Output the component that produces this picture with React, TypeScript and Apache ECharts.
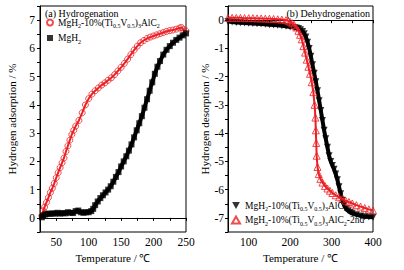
import React, { useEffect, useRef } from 'react';
import * as echarts from 'echarts';

const FONT = 'Liberation Serif, serif';
const RED = '#ec1f24';
const BLACK = '#000000';

// (a) Hydrogenation — MgH2-10%(Ti0.5V0.5)3AlC2 (open red circles)
const hydroCompT = [28, 30, 32, 35, 38, 41, 44, 47, 50, 53, 56, 59, 62, 65, 68, 71, 74, 77, 80, 85, 90, 95, 100, 105, 110, 115, 120, 125, 130, 135, 140, 145, 150, 155, 160, 165, 170, 175, 180, 185, 190, 195, 200, 205, 210, 215, 220, 225, 230, 235, 240, 243, 246, 250];
const hydroCompV = [0.08, 0.25, 0.38, 0.55, 0.72, 0.9, 1.05, 1.22, 1.42, 1.6, 1.78, 1.95, 2.12, 2.35, 2.55, 2.75, 2.95, 3.1, 3.25, 3.45, 3.72, 4.0, 4.22, 4.38, 4.5, 4.6, 4.7, 4.78, 4.87, 4.96, 5.07, 5.2, 5.33, 5.47, 5.62, 5.78, 5.94, 6.08, 6.2, 6.28, 6.35, 6.4, 6.44, 6.48, 6.52, 6.56, 6.6, 6.63, 6.65, 6.68, 6.72, 6.74, 6.66, 6.62];

// (a) Hydrogenation — MgH2 (filled black squares)
const hydroMgT = [28, 30, 33, 36, 40, 44, 48, 52, 56, 60, 64, 68, 72, 76, 80, 84, 88, 92, 96, 100, 104, 107, 110, 114, 118, 122, 126, 130, 134, 138, 142, 146, 150, 154, 158, 162, 166, 170, 174, 178, 182, 186, 190, 194, 198, 202, 206, 210, 215, 220, 225, 230, 235, 240, 245, 250];
const hydroMgV = [0.02, 0.08, 0.12, 0.15, 0.14, 0.16, 0.15, 0.18, 0.15, 0.17, 0.16, 0.2, 0.18, 0.17, 0.24, 0.26, 0.2, 0.18, 0.2, 0.2, 0.24, 0.32, 0.45, 0.58, 0.7, 0.8, 0.9, 1.0, 1.12, 1.28, 1.45, 1.62, 1.82, 2.0, 2.18, 2.38, 2.6, 2.85, 3.1, 3.35, 3.6, 3.9, 4.2, 4.5, 4.8, 5.1, 5.35, 5.55, 5.78, 5.95, 6.08, 6.2, 6.3, 6.38, 6.46, 6.53];

// (b) Dehydrogenation — MgH2-10%(Ti0.5V0.5)3AlC2 (filled black down-triangles)
const dehydT = [50, 60, 70, 80, 90, 100, 110, 120, 130, 140, 150, 160, 170, 180, 190, 200, 210, 215, 220, 225, 230, 234, 238, 242, 246, 250, 254, 258, 262, 266, 270, 274, 278, 282, 286, 290, 294, 298, 302, 306, 310, 314, 318, 322, 326, 330, 335, 340, 345, 350, 360, 370, 380, 390, 400];
const dehydV = [-0.05, -0.07, -0.08, -0.09, -0.1, -0.11, -0.12, -0.13, -0.14, -0.15, -0.16, -0.17, -0.18, -0.2, -0.22, -0.24, -0.26, -0.28, -0.3, -0.34, -0.4, -0.48, -0.6, -0.78, -1.0, -1.28, -1.58, -1.88, -2.18, -2.5, -2.85, -3.2, -3.55, -3.9, -4.2, -4.5, -4.8, -5.0, -5.15, -5.28, -5.45, -5.65, -5.9, -6.15, -6.38, -6.55, -6.68, -6.75, -6.8, -6.84, -6.89, -6.93, -6.96, -6.97, -6.98];

// (b) Dehydrogenation — 2nd cycle (open red triangles)
const dehyd2T = [50, 60, 70, 80, 90, 100, 110, 120, 130, 140, 150, 160, 170, 180, 190, 195, 200, 205, 210, 215, 220, 224, 228, 232, 236, 240, 244, 248, 252, 256, 259, 261, 262, 263, 264, 266, 269, 273, 278, 284, 290, 296, 302, 310, 318, 326, 334, 342, 350, 360, 370, 380, 390, 400];
const dehyd2V = [0.08, 0.08, 0.08, 0.08, 0.07, 0.07, 0.07, 0.06, 0.06, 0.05, 0.05, 0.04, 0.03, 0.02, 0.0, -0.02, -0.06, -0.11, -0.17, -0.26, -0.38, -0.52, -0.68, -0.92, -1.15, -1.4, -1.65, -1.9, -2.2, -2.55, -3.0, -3.45, -3.9, -4.35, -4.8, -5.2, -5.45, -5.62, -5.75, -5.87, -5.96, -6.04, -6.12, -6.2, -6.27, -6.33, -6.39, -6.44, -6.49, -6.55, -6.6, -6.65, -6.7, -6.74];

const leftYTicks = [0, 1, 2, 3, 4, 5, 6, 7];
const rightYTicks = [0, -1, -2, -3, -4, -5, -6, -7];
const leftXTicks = [50, 100, 150, 200, 250];
const rightXTicks = [100, 200, 300, 400];

const NAME_A1 = 'MgH2-10%(Ti0.5V0.5)3AlC2';
const NAME_A2 = 'MgH2';
const NAME_B1 = 'MgH2-10%(Ti0.5V0.5)3AlC2 (b)';
const NAME_B2 = 'MgH2-10%(Ti0.5V0.5)3AlC2-2nd';

const RICH_BASE = '{n|MgH}{s|2}{n|-10%(Ti}{s|0.5}{n|V}{s|0.5}{n|)}{s|3}{n|AlC}{s|2}';
const legendText: Record<string, string> = {
  [NAME_A1]: RICH_BASE,
  [NAME_A2]: '{n|MgH}{s|2}',
  [NAME_B1]: RICH_BASE,
  [NAME_B2]: RICH_BASE + '{n|-2nd}',
};

const rich = {
  n: { fontFamily: FONT, fontSize: 9.5, color: '#000', lineHeight: 13 },
  s: { fontFamily: FONT, fontSize: 6, color: '#000', lineHeight: 6, verticalAlign: 'bottom' },
};

const DOWN_TRI = 'path://M0,0 L10,0 L5,9 Z';

const zip = (t: number[], v: number[]) => t.map((x, i) => [x, v[i]]);

export default function App() {
  const ref = useRef<HTMLDivElement>(null);
  useEffect(() => {
    if (!ref.current) return;
    const chart = echarts.init(ref.current, undefined, { renderer: 'svg' });
    const axisLine = { show: true, lineStyle: { color: '#000', width: 1 } };
    const labelStyle = { fontFamily: FONT, fontSize: 11.5, color: '#000' };
    const nameStyle = { fontFamily: FONT, fontSize: 11, color: '#000' };
    const yNameStyle = { fontFamily: FONT, fontSize: 11, color: '#000' };
    const option: any = {
      animation: false,
      backgroundColor: '#ffffff',
      textStyle: { fontFamily: FONT },
      grid: [
        { left: 40, top: 6, width: 146, height: 226, show: true, borderColor: '#000', borderWidth: 1, backgroundColor: 'transparent' },
        { left: 228, top: 6, width: 145, height: 226, show: true, borderColor: '#000', borderWidth: 1, backgroundColor: 'transparent' },
      ],
      xAxis: [
        {
          gridIndex: 0, type: 'value', min: 25, max: 250, interval: 25,
          axisLine, splitLine: { show: false },
          axisTick: { inside: false, length: 3, lineStyle: { color: '#000' } },
          axisLabel: { ...labelStyle, margin: 4, formatter: (v: number) => (leftXTicks.includes(v) ? String(v) : '') },
          name: 'Temperature / ℃', nameLocation: 'middle', nameGap: 19, nameTextStyle: nameStyle,
        },
        {
          gridIndex: 1, type: 'value', min: 50, max: 400, interval: 50,
          axisLine, splitLine: { show: false },
          axisTick: { inside: false, length: 3, lineStyle: { color: '#000' } },
          axisLabel: { ...labelStyle, margin: 4, formatter: (v: number) => (rightXTicks.includes(v) ? String(v) : '') },
          name: 'Temperature / ℃', nameLocation: 'middle', nameGap: 19, nameTextStyle: nameStyle,
        },
      ],
      yAxis: [
        {
          gridIndex: 0, type: 'value', min: -0.5, max: 7.5, interval: 0.5,
          axisLine, splitLine: { show: false },
          axisTick: { inside: false, length: 3, lineStyle: { color: '#000' } },
          axisLabel: { ...labelStyle, margin: 5, formatter: (v: number) => (leftYTicks.includes(v) ? String(v) : '') },
          name: 'Hydrogen adsorption / %', nameLocation: 'middle', nameGap: 23, nameTextStyle: yNameStyle,
        },
        {
          gridIndex: 1, type: 'value', min: -7.5, max: 0.5, interval: 0.5,
          axisLine, splitLine: { show: false },
          axisTick: { inside: false, length: 3, lineStyle: { color: '#000' } },
          axisLabel: { ...labelStyle, margin: 4, formatter: (v: number) => (rightYTicks.includes(v) ? String(v) : '') },
          name: 'Hydrogen desorption / %', nameLocation: 'middle', nameGap: 16, nameTextStyle: yNameStyle,
        },
      ],
      legend: [
        {
          data: [{ name: NAME_A1, icon: 'circle' }, { name: NAME_A2, icon: 'rect' }],
          orient: 'vertical', left: 46, top: 17.5, z: 10,
          itemWidth: 6, itemHeight: 6, itemGap: 4, padding: 0,
          formatter: (n: string) => legendText[n], textStyle: { rich }, selectedMode: false,
        },
        {
          data: [{ name: NAME_B1, icon: DOWN_TRI }, { name: NAME_B2, icon: 'triangle' }],
          orient: 'vertical', left: 231, top: 200.5, z: 10,
          itemWidth: 8, itemHeight: 7, itemGap: 3, padding: 0,
          formatter: (n: string) => legendText[n], textStyle: { rich }, selectedMode: false,
        },
      ],
      graphic: [
        { type: 'text', left: 45, top: 8, z: 10, style: { text: '(a) Hydrogenation', font: `10px ${FONT}`, fill: '#000' } },
        { type: 'text', right: 34, top: 8, z: 10, style: { text: '(b) Dehydrogenation', font: `10px ${FONT}`, fill: '#000' } },
      ],
      series: [
        { type: 'line', xAxisIndex: 0, yAxisIndex: 0, data: zip(hydroCompT, hydroCompV), showSymbol: false, symbol: 'none', lineStyle: { color: RED, width: 2 }, silent: true, z: 2 },
        { type: 'scatter', name: NAME_A1, xAxisIndex: 0, yAxisIndex: 0, data: zip(hydroCompT, hydroCompV), symbol: 'circle', symbolSize: 6, itemStyle: { color: 'rgba(255,255,255,0)', borderColor: RED, borderWidth: 1 }, z: 3 },
        { type: 'line', xAxisIndex: 0, yAxisIndex: 0, data: zip(hydroMgT, hydroMgV), showSymbol: false, symbol: 'none', lineStyle: { color: BLACK, width: 4 }, silent: true, z: 2 },
        { type: 'scatter', name: NAME_A2, xAxisIndex: 0, yAxisIndex: 0, data: zip(hydroMgT, hydroMgV), symbol: 'rect', symbolSize: 6, itemStyle: { color: BLACK }, z: 3 },
        { type: 'line', xAxisIndex: 1, yAxisIndex: 1, data: zip(dehydT, dehydV), showSymbol: false, symbol: 'none', lineStyle: { color: BLACK, width: 4 }, silent: true, z: 2 },
        { type: 'scatter', name: NAME_B1, xAxisIndex: 1, yAxisIndex: 1, data: zip(dehydT, dehydV), symbol: 'triangle', symbolRotate: 180, symbolSize: 7, itemStyle: { color: BLACK }, z: 3 },
        { type: 'line', xAxisIndex: 1, yAxisIndex: 1, data: zip(dehyd2T, dehyd2V), showSymbol: false, symbol: 'none', lineStyle: { color: RED, width: 2 }, silent: true, z: 4 },
        { type: 'scatter', name: NAME_B2, xAxisIndex: 1, yAxisIndex: 1, data: zip(dehyd2T, dehyd2V), symbol: 'triangle', symbolSize: 7, itemStyle: { color: 'rgba(255,255,255,0)', borderColor: RED, borderWidth: 1 }, z: 5 },
      ],
    };
    chart.setOption(option);
    return () => chart.dispose();
  }, []);
  return <div ref={ref} style={{ position: 'fixed', left: 0, top: 0, width: 404, height: 270, background: '#fff' }} />;
}
